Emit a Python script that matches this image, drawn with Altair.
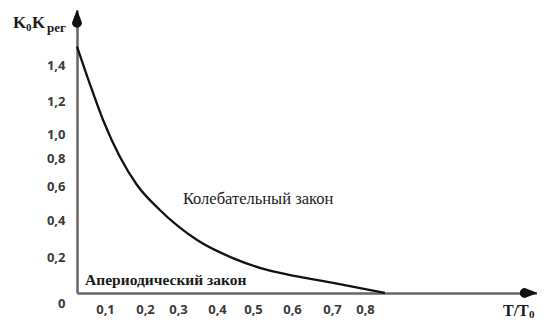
import altair as alt
import pandas as pd

# curve (T/T0 -> K0*Kрег)
t_vals = [0.0, 0.046, 0.093, 0.1375, 0.18, 0.245, 0.349, 0.444, 0.536, 0.62, 0.703, 0.854]
k_vals = [1.50, 1.294, 1.085, 0.808, 0.607, 0.459, 0.292, 0.194, 0.128, 0.089, 0.056, 0.0]

x_ticks = [0.1, 0.2, 0.3, 0.4, 0.5, 0.6, 0.7, 0.8]
y_ticks = [0, 0.2, 0.4, 0.6, 0.8, 1.0, 1.2, 1.4]

# arrow heads at the axis ends, drawn as tapering trails (base -> tip)
arrow_id = ["y", "y", "x", "x"]
arrow_t = [0.0, 0.0, 1.232, 1.265]
arrow_k = [1.63, 1.70, 0.0, 0.0]
arrow_w = [10, 0.5, 10, 0.5]
arrow_o = [0, 1, 0, 1]

label_osc = "Колебательный закон"
label_aper = "Апериодический закон"

df = pd.DataFrame({"t": t_vals, "k": k_vals})
arrows = pd.DataFrame({"id": arrow_id, "t": arrow_t, "k": arrow_k, "w": arrow_w, "o": arrow_o})

W, H = 460, 283
SERIF = "Liberation Serif, Times New Roman, DejaVu Serif, serif"

# hand-drawn axes in the source are unevenly graduated -> piecewise scales
x_scale = alt.Scale(domain=[0, 0.1, 0.2, 0.3, 0.4, 0.5, 0.6, 0.7, 0.8, 1.265],
                    range=[0, 28, 68, 101, 140, 176, 215, 255, 288, W], nice=False, zero=False)
y_scale = alt.Scale(domain=[0, 0.2, 0.4, 0.6, 0.8, 1.0, 1.2, 1.4, 1.7],
                    range=[H, 247, 210, 176, 148, 124, 91, 55, 0], nice=False, zero=False)

lbl = "datum.value == 0 ? '0' : replace(format(datum.value, '.1f'), '.', ',')"

curve = alt.Chart(df).mark_line(color="#111", strokeWidth=2.3, interpolate="monotone").encode(
    x=alt.X("t:Q", scale=x_scale,
            axis=alt.Axis(values=x_ticks, labelExpr=lbl, title=None, labelPadding=10)),
    y=alt.Y("k:Q", scale=y_scale,
            axis=alt.Axis(values=y_ticks, labelExpr=lbl, title=None, labelPadding=12,
                          labelOffset={"condition": {"test": "datum.value == 0", "value": 10}, "value": 0},
                          labelAlign="right")),
)

heads = alt.Chart(arrows).mark_trail(color="#111", opacity=1).encode(
    x=alt.X("t:Q", scale=x_scale),
    y=alt.Y("k:Q", scale=y_scale),
    size=alt.Size("w:Q", scale=None, legend=None),
    detail="id:N",
    order=alt.Order("o:Q"),
)

one = pd.DataFrame({"a": [0]})


def txt(s, x, y, size, weight="normal", align="left", data_pos=False, font=SERIF, color="#1a1a1a"):
    enc = dict(text=alt.value(s))
    if data_pos:
        enc.update(x=alt.datum(x), y=alt.datum(y))
    else:
        enc.update(x=alt.value(x), y=alt.value(y))
    return alt.Chart(one).mark_text(font=font, fontSize=size, fontWeight=weight, color=color,
                                    align=align, baseline="middle").encode(**enc)


txt_osc = txt(label_osc, 0.513, 0.524, 16.5, align="center", data_pos=True)
txt_aper = txt(label_aper, 0.029, 0.072, 15.5, weight="bold", data_pos=True)

# axis titles  K0Kрег  and  T/T0 (with subscripts)
t_k1 = txt("K", -64, 13, 17, "bold")
t_0 = txt("0", -51, 18, 11, "bold")
t_k2 = txt("K", -45, 13, 17, "bold")
t_reg = txt("рег", -30, 18, 13, "bold")
t_tt = txt("T/T", 426, 301, 16, "bold")
t_t0 = txt("0", 452, 305, 11, "bold")

chart = alt.layer(curve, txt_osc, txt_aper, t_k1, t_0, t_k2, t_reg, t_tt, t_t0, heads).properties(
    width=W, height=H,
    autosize=alt.AutoSizeParams(type="none"),
    padding={"left": 69, "top": 2, "right": 0, "bottom": 26},
).configure_view(stroke=None).configure_axis(
    domainColor="#666", domainWidth=2.5, ticks=False, tickSize=0, grid=False,
    labelFont="Open Sans", labelFontWeight="bold", labelFontSize=13, labelColor="#3a3a3a",
)

chart.save("out.html", embed_options={"renderer": "svg", "actions": False})
